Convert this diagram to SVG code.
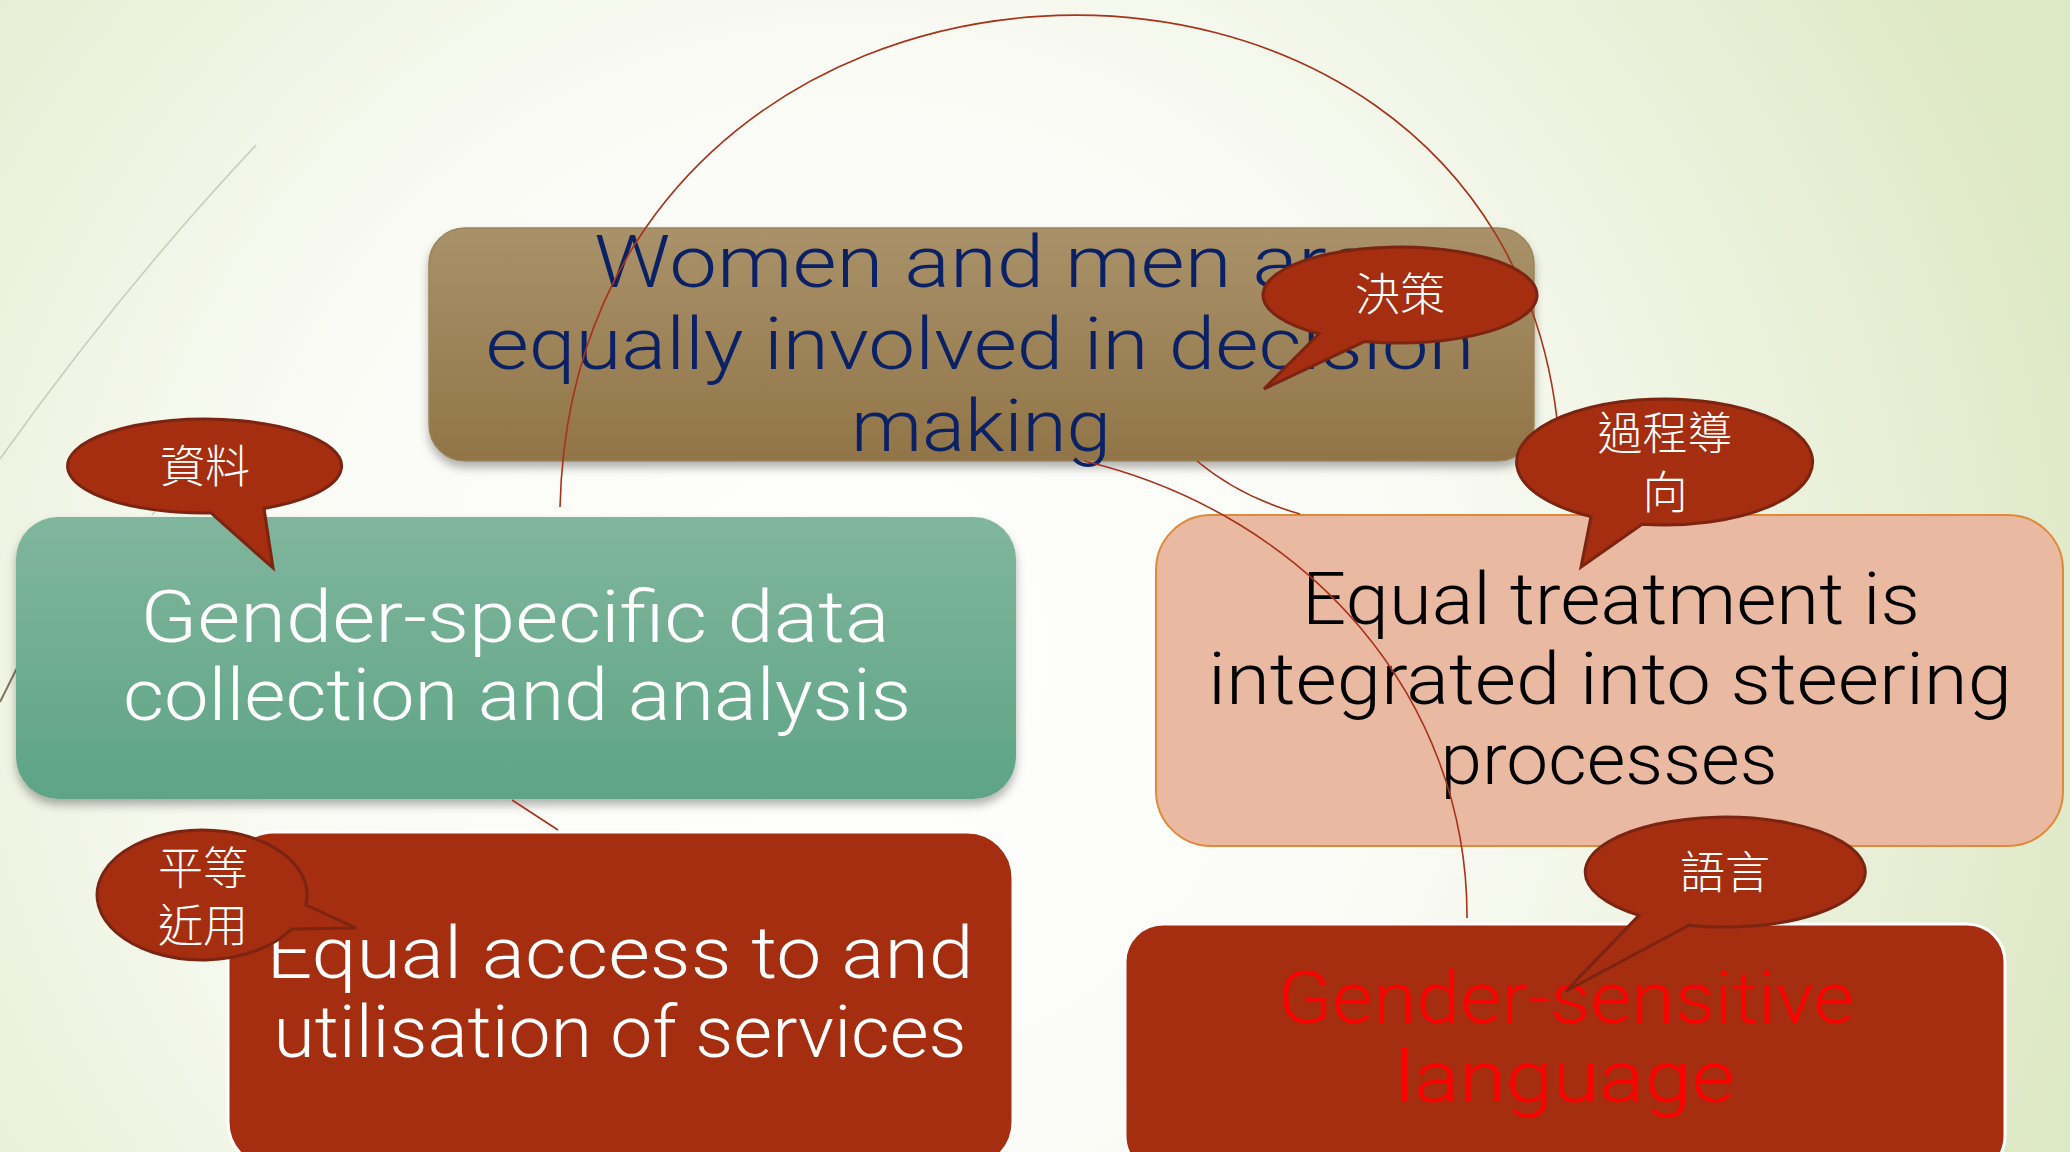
<svg xmlns="http://www.w3.org/2000/svg" width="2070" height="1152" viewBox="0 0 2070 1152">
<defs>
<radialGradient id="bg" gradientUnits="userSpaceOnUse" cx="850" cy="650" r="1300">
<stop offset="0" stop-color="#ffffff"/>
<stop offset="0.45" stop-color="#fafbf5"/>
<stop offset="1" stop-color="#dde8c4"/>
</radialGradient>
<linearGradient id="gBrown" x1="0" y1="0" x2="0" y2="1">
<stop offset="0" stop-color="#a99169"/>
<stop offset="1" stop-color="#917548"/>
</linearGradient>
<linearGradient id="gTeal" x1="0" y1="0" x2="0" y2="1">
<stop offset="0" stop-color="#80b69d"/>
<stop offset="1" stop-color="#5ea486"/>
</linearGradient>
<filter id="sh" x="-5%" y="-10%" width="110%" height="130%">
<feDropShadow dx="0" dy="6" stdDeviation="5" flood-color="#000" flood-opacity="0.3"/>
</filter>
</defs>
<style>
.main{font-family:Roboto,"DejaVu Sans",sans-serif;font-size:72px;font-weight:300;text-anchor:middle}
.cjk{font-family:"Noto Sans CJK TC","Noto Sans CJK SC",sans-serif;font-size:45px;font-weight:300;fill:#ffffff;text-anchor:middle}
.bub{fill:#a52d10;stroke:#7b2411;stroke-width:3;stroke-linejoin:miter}
.con{fill:none;stroke:#a8321a;stroke-width:1.6}
.wisp{fill:none;stroke:#c9cfb9;stroke-width:1.6}
.red{fill:#a52d10;stroke:#ffffff;stroke-width:3}
</style>
<rect x="0" y="0" width="2070" height="1152" fill="url(#bg)"/>
<g id="background-lines">
<path class="wisp" d="M256,145 Q120,290 0,459"/>
<path class="wisp" d="M158,508 L152,515"/>
<path d="M0,702 L17,668" fill="none" stroke="#7d7560" stroke-width="2"/>
</g>
<g id="node-decision">
<rect x="429" y="228" width="1105" height="233" rx="36" fill="url(#gBrown)" stroke="#9c845a" stroke-width="1.5" filter="url(#sh)"/>
<text class="main" fill="#0a2165"><tspan x="982" y="287" textLength="776" lengthAdjust="spacingAndGlyphs">Women and men are</tspan><tspan x="980" y="369" textLength="989" lengthAdjust="spacingAndGlyphs">equally involved in decision</tspan><tspan x="981" y="451" textLength="260" lengthAdjust="spacingAndGlyphs">making</tspan></text>
</g>
<g id="node-data">
<rect x="16" y="517" width="1000" height="282" rx="42" fill="url(#gTeal)" filter="url(#sh)"/>
<text class="main" fill="#ffffff"><tspan x="515" y="642" textLength="749" lengthAdjust="spacingAndGlyphs">Gender-specific data</tspan><tspan x="517" y="720" textLength="788" lengthAdjust="spacingAndGlyphs">collection and analysis</tspan></text>
</g>
<g id="node-steering">
<rect x="1156" y="515" width="907" height="331" rx="55" fill="#eab9a1" stroke="#e0893a" stroke-width="2"/>
<text class="main" fill="#000000"><tspan x="1611" y="624" textLength="618" lengthAdjust="spacingAndGlyphs">Equal treatment is</tspan><tspan x="1610" y="704" textLength="804" lengthAdjust="spacingAndGlyphs">integrated into steering</tspan><tspan x="1609" y="784" textLength="337" lengthAdjust="spacingAndGlyphs">processes</tspan></text>
</g>
<g id="node-access">
<rect class="red" x="228" y="832" width="785" height="336" rx="46"/>
<text class="main" fill="#ffffff"><tspan x="620" y="978" textLength="707" lengthAdjust="spacingAndGlyphs">Equal access to and</tspan><tspan x="620" y="1057" textLength="693" lengthAdjust="spacingAndGlyphs">utilisation of services</tspan></text>
</g>
<g id="node-language">
<rect class="red" x="1125" y="924" width="880" height="250" rx="38"/>
<text class="main" fill="#ff0000"><tspan x="1566" y="1023" textLength="576" lengthAdjust="spacingAndGlyphs">Gender-sensitive</tspan><tspan x="1565" y="1102" textLength="340" lengthAdjust="spacingAndGlyphs">language</tspan></text>
</g>
<g id="connectors">
<path class="con" d="M560,507 C575,-115 1490,-150 1557,419"/>
<path class="con" d="M1084,461 C1310,515 1468,700 1467,918"/>
<path class="con" d="M1197,461 Q1240,497 1300,514"/>
<path class="con" d="M512,800 L558,830"/>
</g>
<g id="callout-data">
<path class="bub" d="M211,513 A137,47 0 1 1 264,508.4 L273,568 Z"/>
<text class="cjk" x="205" y="483">資料</text>
</g>
<g id="callout-decision">
<path class="bub" d="M1319,333.7 A137,48 0 1 1 1365,341.4 L1264,389 Z"/>
<text class="cjk" x="1400" y="311">決策</text>
</g>
<g id="callout-process">
<path class="bub" d="M1591,516.6 A148,63 0 1 1 1642,524.2 L1581,567 Z"/>
<text class="cjk" x="1665" y="450">過程導</text>
<text class="cjk" x="1665" y="509">向</text>
</g>
<g id="callout-access">
<path class="bub" d="M291.5,929 A105,65 0 1 1 305.8,905 L356,928 Z"/>
<text class="cjk" x="203" y="885">平等</text>
<text class="cjk" x="203" y="942">近用</text>
</g>
<g id="callout-language">
<path class="bub" d="M1639,915.4 A140,55 0 1 1 1689,925.2 L1566,991 Z"/>
<text class="cjk" x="1725" y="889">語言</text>
</g>
</svg>
